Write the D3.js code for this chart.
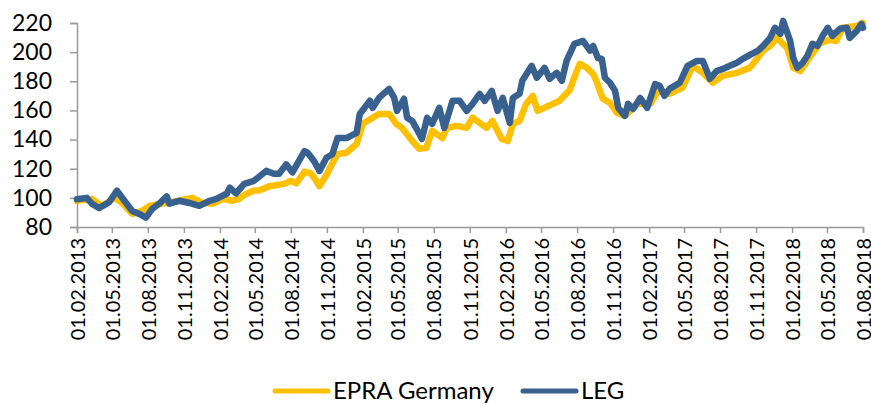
<!DOCTYPE html>
<html>
<head>
<meta charset="utf-8">
<script src="https://cdn.jsdelivr.net/npm/d3@7"></script>
<style>
  html, body { margin: 0; padding: 0; background: #fff; }
  svg { display: block; font-family: Lato, "Open Sans", sans-serif; }
</style>
</head>
<body>
<div id="chart"></div>
<script>
// series (dates, values indexed to 100 at 01.02.2013)
var epraDates = ['2013-02-01','2013-03-11','2013-04-06','2013-05-07','2013-05-27','2013-06-22','2013-07-17','2013-08-05','2013-09-18','2013-10-20','2013-11-08','2013-11-23','2013-12-18','2014-01-13','2014-02-09','2014-03-04','2014-03-22','2014-04-04','2014-04-29','2014-05-12','2014-06-07','2014-07-15','2014-08-02','2014-08-15','2014-09-05','2014-09-20','2014-09-30','2014-10-13','2014-11-03','2014-11-09','2014-11-28','2014-12-21','2015-01-16','2015-02-01','2015-02-26','2015-03-14','2015-04-09','2015-04-27','2015-05-12','2015-06-07','2015-06-25','2015-07-13','2015-07-28','2015-08-23','2015-09-03','2015-09-28','2015-10-24','2015-11-08','2015-11-26','2015-12-14','2015-12-29','2016-01-21','2016-02-06','2016-02-19','2016-03-07','2016-03-24','2016-04-10','2016-04-22','2016-05-10','2016-05-31','2016-06-17','2016-07-13','2016-07-31','2016-08-08','2016-08-26','2016-09-11','2016-09-21','2016-09-28','2016-10-06','2016-10-24','2016-11-11','2016-12-01','2017-01-01','2017-02-04','2017-02-24','2017-03-25','2017-04-27','2017-05-23','2017-06-18','2017-07-13','2017-08-08','2017-09-13','2017-10-16','2017-11-19','2017-12-07','2017-12-24','2018-01-19','2018-02-04','2018-02-22','2018-03-17','2018-04-12','2018-05-07','2018-05-25','2018-06-10','2018-07-16','2018-08-01'];
var epraValues = [98,99.3,94.5,100,96.6,89,91,94.5,96.6,98,99.3,100,96.6,96,99.3,98,99.3,102,105,105,108,109.6,111.7,110,118,117,113.7,108,117,120.6,130,131,137,150.8,155,157.6,157.6,150.8,148,139,133.6,134.3,146,141,148,149.4,148,155,151.5,148,152.8,140.5,139,150.8,152.8,164.5,170,159.7,161.8,164.5,166.6,174,187,192,189.2,185,179,173.4,168,165.2,158.3,156.3,164.5,164.5,173.4,171.4,175.5,190.6,185.8,179,183.7,185.8,189.2,201,204.3,209.8,203,189.2,187,196,205.7,208.5,207.7,216.7,218,220];

var legDates = ['2013-02-01','2013-02-26','2013-03-11','2013-03-29','2013-04-24','2013-05-14','2013-06-02','2013-06-22','2013-07-10','2013-07-27','2013-08-12','2013-08-30','2013-09-18','2013-09-25','2013-10-20','2013-11-15','2013-12-10','2014-01-06','2014-01-23','2014-02-19','2014-02-26','2014-03-14','2014-04-04','2014-04-29','2014-05-30','2014-06-19','2014-07-02','2014-07-20','2014-08-05','2014-09-05','2014-09-13','2014-09-30','2014-10-13','2014-10-31','2014-11-15','2014-11-28','2014-12-21','2015-01-16','2015-01-24','2015-02-19','2015-02-26','2015-03-14','2015-04-09','2015-04-22','2015-04-29','2015-05-17','2015-05-25','2015-06-07','2015-06-25','2015-07-02','2015-07-15','2015-07-28','2015-08-15','2015-08-28','2015-09-18','2015-10-06','2015-10-24','2015-11-08','2015-11-26','2015-12-09','2015-12-27','2016-01-11','2016-01-24','2016-02-11','2016-02-19','2016-03-07','2016-03-14','2016-04-07','2016-04-20','2016-05-10','2016-05-23','2016-06-10','2016-06-23','2016-07-05','2016-07-25','2016-08-16','2016-09-03','2016-09-11','2016-09-23','2016-10-03','2016-10-11','2016-10-24','2016-11-06','2016-11-14','2016-12-01','2016-12-09','2016-12-22','2017-01-09','2017-01-27','2017-02-16','2017-02-28','2017-03-12','2017-03-25','2017-04-20','2017-05-10','2017-06-03','2017-06-18','2017-07-06','2017-07-23','2017-08-08','2017-08-26','2017-09-13','2017-09-28','2017-10-21','2017-11-06','2017-11-19','2017-12-07','2017-12-19','2018-01-02','2018-01-09','2018-01-27','2018-02-04','2018-02-14','2018-02-28','2018-03-12','2018-03-25','2018-04-07','2018-04-20','2018-05-03','2018-05-15','2018-06-03','2018-06-21','2018-06-28','2018-07-16','2018-07-28','2018-08-01'];
var legValues = [99,100,96,93,97,105,98,91,89,86.5,92.5,96,101,96,98,96.5,94.5,98,99.3,103,107,103,109.6,111.7,118.5,116.5,116.5,123,117.5,132,131,125,118.5,127.5,130,141,141,144.6,157.6,166.6,161.8,168.6,174.8,168.6,159.7,168,155,152.8,144,140.5,155,150.8,161.8,148,166.6,166.6,159.7,164.5,171.4,166.6,173.4,159.7,168.6,151.5,168.6,171.4,180.3,190.6,182.4,189.2,181.7,185.8,180.3,194,205.7,207.7,201,204.3,196,195.4,182.4,179,173.4,161.8,156.3,164.5,161,168.6,161.8,178,176.9,170,174.8,179,190.6,194,194,181.7,187,188.5,190.6,192.7,195.4,198.8,201,204.3,209.8,216.7,212.6,221.5,207.7,196,189.2,192.7,197.5,205.7,204.3,211.2,216.7,211.2,216,216.7,209.8,214.6,219.4,216.7];

var yTicks = [80, 100, 120, 140, 160, 180, 200, 220];
var xTickDates = ['2013-02-01','2013-05-01','2013-08-01','2013-11-01','2014-02-01','2014-05-01','2014-08-01','2014-11-01','2015-02-01','2015-05-01','2015-08-01','2015-11-01','2016-02-01','2016-05-01','2016-08-01','2016-11-01','2017-02-01','2017-05-01','2017-08-01','2017-11-01','2018-02-01','2018-05-01','2018-08-01'];

var seriesNames = ['EPRA Germany', 'LEG'];
var seriesColors = ['#FFC000', '#386190'];

var attrs = {
  width: 871,
  height: 405,
  margin: { top: 23, right: 8, bottom: 178, left: 77 }
};

var parse = d3.timeParse('%Y-%m-%d');
var fmt = d3.timeFormat('%d.%m.%Y');

var series = [
  { name: seriesNames[0], color: seriesColors[0], points: epraDates.map((d, i) => ({ date: parse(d), value: epraValues[i] })) },
  { name: seriesNames[1], color: seriesColors[1], points: legDates.map((d, i) => ({ date: parse(d), value: legValues[i] })) }
];

var chartWidth = attrs.width - attrs.margin.left - attrs.margin.right;
var chartHeight = attrs.height - attrs.margin.top - attrs.margin.bottom;

var x = d3.scaleTime()
  .domain([parse(xTickDates[0]), parse(xTickDates[xTickDates.length - 1])])
  .range([0, chartWidth]);

var y = d3.scaleLinear()
  .domain([80, 220])
  .range([chartHeight, 0]);

var svg = d3.select('#chart').append('svg')
  .attr('width', attrs.width)
  .attr('height', attrs.height);

var chart = svg.append('g')
  .attr('transform', `translate(${attrs.margin.left}, ${attrs.margin.top})`);

// y axis
var yAxis = chart.append('g')
  .call(d3.axisLeft(y).tickValues(yTicks).tickSize(7).tickPadding(18));
yAxis.selectAll('text')
  .attr('font-size', 23)
  .attr('font-family', 'Lato, sans-serif')
  .attr('fill', '#000');

// x axis
var xAxis = chart.append('g')
  .attr('transform', `translate(0, ${chartHeight})`)
  .call(d3.axisBottom(x).tickValues(xTickDates.map(parse)).tickFormat(fmt).tickSize(6));
xAxis.selectAll('text')
  .attr('font-size', 20)
  .attr('font-family', 'Lato, sans-serif')
  .attr('fill', '#000')
  .attr('transform', 'rotate(-90)')
  .attr('text-anchor', 'end')
  .attr('x', -11)
  .attr('y', 0)
  .attr('dy', '0.36em');

chart.selectAll('.domain, .tick line')
  .attr('stroke', '#9a9a9a')
  .attr('stroke-width', 1.5);

// lines
var line = d3.line()
  .x(d => x(d.date))
  .y(d => y(d.value));

chart.selectAll('.series')
  .data(series)
  .join('path')
  .attr('class', 'series')
  .attr('d', d => line(d.points))
  .attr('fill', 'none')
  .attr('stroke', d => d.color)
  .attr('stroke-width', 6.5)
  .attr('stroke-linejoin', 'round')
  .attr('stroke-linecap', 'round');

// legend
var legendX = [273, 521];
var legend = svg.selectAll('.legend')
  .data(series)
  .join('g')
  .attr('class', 'legend')
  .attr('transform', (d, i) => `translate(${legendX[i]}, 391)`);

legend.append('line')
  .attr('x1', 2).attr('x2', 55)
  .attr('stroke', d => d.color)
  .attr('stroke-width', 5)
  .attr('stroke-linecap', 'round');

legend.append('text')
  .attr('x', 60)
  .attr('dy', '0.35em')
  .attr('font-size', 24)
  .attr('fill', '#000')
  .text(d => d.name);
</script>
</body>
</html>
